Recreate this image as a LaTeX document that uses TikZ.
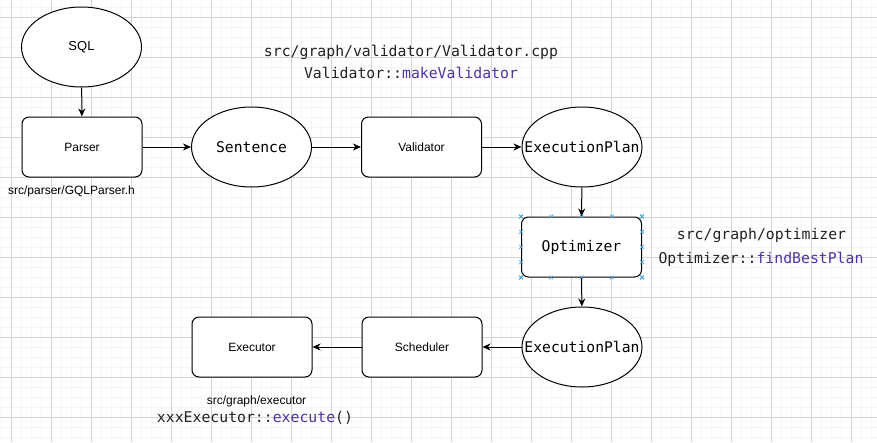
\documentclass[tikz,border=0pt]{standalone}
\usepackage{fontspec}
\setmainfont{Liberation Sans}
\newfontfamily\codefont{DejaVu Sans Mono}
\usetikzlibrary{arrows.meta,shapes.geometric,calc}
\definecolor{gridmajor}{RGB}{212,212,212}
\definecolor{gridminor}{RGB}{246,246,246}
\definecolor{codepurple}{RGB}{80,50,160}
\definecolor{codetext}{RGB}{34,34,34}
\definecolor{handle}{RGB}{70,160,220}
\begin{document}
\begin{tikzpicture}[x=1pt,y=-1pt,
  ellip/.style={ellipse, draw, line width=1pt, minimum width=120pt, minimum height=80pt, inner sep=0pt, fill=white},
  boxnode/.style={rectangle, rounded corners=7pt, draw, line width=1pt, minimum width=120pt, minimum height=60pt, fill=white, font=\fontsize{12}{14}\selectfont},
  codelabel/.style={font=\codefont\fontsize{14.7}{16}\selectfont},
  plainlabel/.style={font=\fontsize{12}{14}\selectfont},
  notecode/.style={font=\codefont\fontsize{14.8}{16}\selectfont, text=codetext, inner sep=0pt},
  arr/.style={-{Stealth[length=8pt,width=7pt,inset=2.5pt]}, line width=1pt},
  handlemark/.style={draw=handle, line width=0.7pt}
]
\useasboundingbox (0,0) rectangle (877,442);
\fill[white] (0,0) rectangle (877,442);
% grid
\foreach \x in {1,11,...,871} \draw[gridminor, line width=0.8pt] (\x,0) -- (\x,442);
\foreach \y in {7,17,...,437} \draw[gridminor, line width=0.8pt] (0,\y) -- (877,\y);
\foreach \x in {11,51,...,851} \draw[gridmajor, line width=0.8pt] (\x,0) -- (\x,442);
\foreach \y in {17,57,...,417} \draw[gridmajor, line width=0.8pt] (0,\y) -- (877,\y);

% nodes
\node[ellip, font=\fontsize{13}{15}\selectfont] (sql) at (81.5,47) {\makebox[0pt]{SQL}};
\node[boxnode] (parser) at (82,147) {Parser};
\node[ellip] (sentence) at (251.5,147) {\makebox[0pt]{\codefont\fontsize{14.7}{16}\selectfont Sentence}};
\node[boxnode] (validator) at (421.5,147) {Validator};
\node[ellip] (ep1) at (582,147) {\makebox[0pt]{\codefont\fontsize{14.7}{16}\selectfont ExecutionPlan}};
\node[boxnode, codelabel] (optimizer) at (581.5,247) {Optimizer};
\node[ellip] (ep2) at (582,347) {\makebox[0pt]{\codefont\fontsize{14.7}{16}\selectfont ExecutionPlan}};
\node[boxnode] (scheduler) at (422,347) {Scheduler};
\node[boxnode] (executor) at (252,347) {Executor};

% annotations
\node[plainlabel] (parserpath) at (71.5,191) {src/parser/GQLParser.h};
\node[notecode] (valpath) at (411,52) {src/graph/validator/Validator.cpp};
\node[notecode] (valfunc) at (411,73) {Validator::\textcolor{codepurple}{makeValidator}};
\node[notecode] (optpath) at (761.5,235) {src/graph/optimizer};
\node[notecode] (optfunc) at (761,259) {Optimizer::\textcolor{codepurple}{findBestPlan}};
\node[plainlabel] (execpath) at (256.5,401) {src/graph/executor};
\node[notecode] (execfunc) at (255,418) {xxxExecutor::\textcolor{codepurple}{execute}()};

% connectors
\draw[arr] (sql) -- (parser);
\draw[arr] (parser) -- (sentence);
\draw[arr] (sentence) -- (validator);
\draw[arr] (validator) -- (ep1);
\draw[arr] (ep1) -- (optimizer);
\draw[arr] (optimizer) -- (ep2);
\draw[arr] (ep2) -- (scheduler);
\draw[arr] (scheduler) -- (executor);

% selection handles on optimizer
\foreach \p in {0,0.25,0.5,0.75,1} {
  \foreach \a/\b in {north west/north east, south west/south east, north west/south west, north east/south east} {
    \coordinate (h) at ($(optimizer.\a)!\p!(optimizer.\b)$);
    \draw[handlemark] ($(h)+(-1.8,-1.8)$) -- ($(h)+(1.8,1.8)$);
    \draw[handlemark] ($(h)+(-1.8,1.8)$) -- ($(h)+(1.8,-1.8)$);
  }
}
\end{tikzpicture}
\end{document}
